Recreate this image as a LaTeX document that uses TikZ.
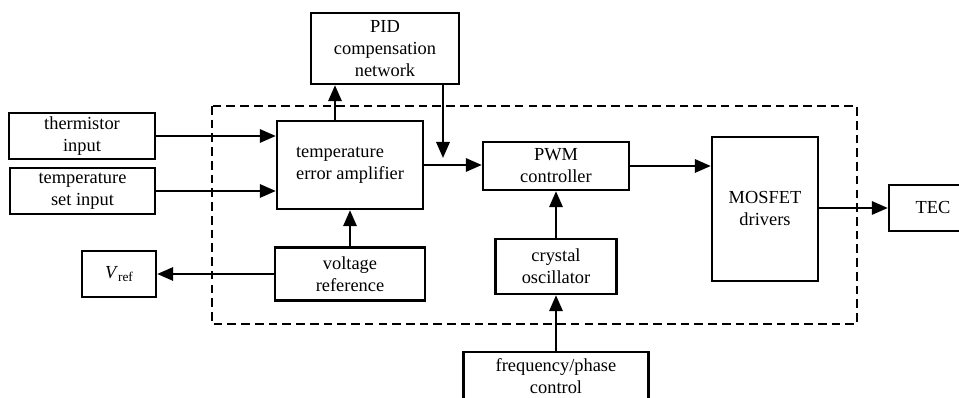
\documentclass[tikz,border=0pt]{standalone}
\usepackage{fontspec}
\setmainfont{Liberation Serif}
\usetikzlibrary{arrows.meta,positioning,calc}

\tikzset{
  block/.style 2 args={draw, line width=1.8pt, align=center, inner sep=0pt,
    minimum width=#1*0.75pt, minimum height=#2*0.75pt},
  flow/.style={line width=1.7pt, -{Triangle[length=12pt,width=10pt]}},
  frame/.style={line width=1.7pt, dash pattern=on 6.5pt off 3.8pt},
}

\begin{document}
\begin{tikzpicture}[x=0.75pt, y=0.75pt, font=\fontsize{13.8}{16.5}\selectfont]
  \useasboundingbox (0,0) rectangle (959,398);
  \draw[frame] (212,292) rectangle (857,74);

  \node[block={146}{46}] (therm) at (82,262) {thermistor\\input};
  \node[block={145}{46}] (tset) at (82.5,207) {temperature\\set input};
  \node[block={74}{46}] (vout) at (119,124) {\textit{V}\raisebox{-0.4ex}{\fontsize{10}{10}\selectfont ref}};
  \node[block={146}{88}, align=left] (tea) at (350,233) {temperature\\error amplifier};
  \node[block={148}{71}] (pid) at (385,349.5) {PID\\compensation\\network};
  \node[block={150}{53}] (vref) at (350,124) {voltage\\reference};
  \node[block={146}{48}] (pwm) at (556,232) {PWM\\controller};
  \node[block={121}{55}] (xtal) at (556,131.5) {crystal\\oscillator};
  \node[block={185}{48}] (freq) at (556,22) {frequency/phase\\control};
  \node[block={106}{144}] (mos) at (765,189) {MOSFET\\drivers};
  \node[block={88}{46}] (tec) at (933,190) {TEC};

  \coordinate (teaout) at ($(tea.north)+(-15,0)$);
  \coordinate (sum) at (443,233);
  \coordinate (sumtip) at (443,240);

  \draw[flow] (therm.east) -- (therm.east -| tea.west);
  \draw[flow] (tset.east) -- (tset.east -| tea.west);
  \draw[flow] (teaout) -- (teaout |- pid.south);
  \draw[flow] (sum |- pid.south) -- (sumtip);
  \draw[flow] (tea.east) -- (tea.east -| pwm.west);
  \draw[flow] (pwm.east) -- (pwm.east -| mos.west);
  \draw[flow] (xtal.north) -- (pwm.south);
  \draw[flow] (freq.north) -- (xtal.south);
  \draw[flow] (vref.north) -- (tea.south);
  \draw[flow] (vref.west) -- (vref.west -| vout.east);
  \draw[flow] (mos.east |- tec.west) -- (tec.west);
\end{tikzpicture}
\end{document}
